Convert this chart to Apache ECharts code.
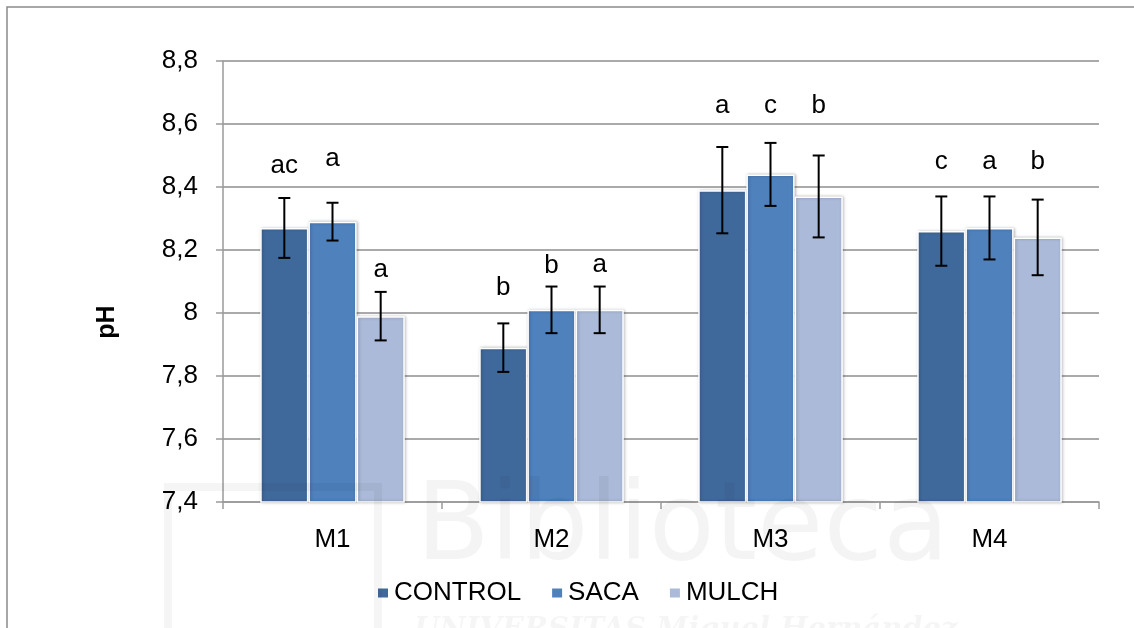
<!DOCTYPE html>
<html>
<head>
<meta charset="utf-8">
<script src="https://cdn.jsdelivr.net/npm/echarts@6/dist/echarts.min.js"></script>
<style>
  html, body { margin: 0; padding: 0; background: #fff; }
  #chart { width: 1134px; height: 628px; }
</style>
</head>
<body>
<div id="chart"></div>
<script>
// pH by plot (M1–M4) and treatment, with standard deviation and significance letters
const categories = ['M1', 'M2', 'M3', 'M4'];
const treatments = ['CONTROL', 'SACA', 'MULCH'];

const controlMean = [8.27, 7.89, 8.39, 8.26];
const sacaMean    = [8.29, 8.01, 8.44, 8.27];
const mulchMean   = [7.99, 8.01, 8.37, 8.24];

const controlSd = [0.095, 0.077, 0.137, 0.11];
const sacaSd    = [0.06, 0.074, 0.10, 0.10];
const mulchSd   = [0.077, 0.074, 0.13, 0.12];

const controlLetters = ['ac', 'b', 'a', 'c'];
const sacaLetters    = ['a', 'b', 'c', 'a'];
const mulchLetters   = ['a', 'a', 'b', 'b'];

// pH level at which each letter's baseline sits
const controlLetterAt = [8.44, 8.05, 8.63, 8.45];
const sacaLetterAt    = [8.46, 8.12, 8.63, 8.45];
const mulchLetterAt   = [8.11, 8.125, 8.63, 8.45];

const yTicks = { min: 7.4, max: 8.8, step: 0.2 };

const means = [controlMean, sacaMean, mulchMean];
const sds = [controlSd, sacaSd, mulchSd];
const letters = [controlLetters, sacaLetters, mulchLetters];
const letterAt = [controlLetterAt, sacaLetterAt, mulchLetterAt];
const colors = ['#40699B', '#4F81BD', '#AABAD8'];

const CATEGORY_GAP = 0.34;
const FONT = 'Liberation Sans, Arial, Helvetica, sans-serif';
const FS = 26;

function errorSeries(k) {
  return {
    type: 'custom',
    name: treatments[k] + ' sd',
    z: 5,
    data: categories.map((c, i) => [i, means[k][i], sds[k][i], letterAt[k][i]]),
    encode: { x: 0, y: [1] },
    renderItem: function (params, api) {
      const idx = api.value(0);
      const mean = api.value(1);
      const sd = api.value(2);
      const band = api.size([1, 0])[0];
      const groupW = band * (1 - CATEGORY_GAP);
      const barW = groupW / 3;
      const cx = api.coord([idx, mean])[0] - groupW / 2 + barW * (k + 0.5);
      const yTop = api.coord([idx, mean + sd])[1];
      const yBot = api.coord([idx, mean - sd])[1];
      const yLetter = api.coord([idx, api.value(3)])[1];
      const cap = 6;
      const stroke = { stroke: '#000', lineWidth: 2 };
      return {
        type: 'group',
        children: [
          { type: 'line', shape: { x1: cx, y1: yTop, x2: cx, y2: yBot }, style: stroke },
          { type: 'line', shape: { x1: cx - cap, y1: yTop, x2: cx + cap, y2: yTop }, style: stroke },
          { type: 'line', shape: { x1: cx - cap, y1: yBot, x2: cx + cap, y2: yBot }, style: stroke },
          {
            type: 'text',
            style: {
              x: cx, y: yLetter - 9,
              text: letters[k][params.dataIndex],
              font: FS + 'px ' + FONT,
              fill: '#000',
              align: 'center',
              verticalAlign: 'middle'
            }
          }
        ]
      };
    }
  };
}

const barSeries = treatments.map((name, k) => ({
  type: 'bar',
  name: name,
  data: means[k],
  barGap: '0%',
  barCategoryGap: (CATEGORY_GAP * 100) + '%',
  itemStyle: {
    color: colors[k],
    borderColor: '#ffffff',
    borderWidth: 1.5,
    shadowColor: 'rgba(0,0,0,0.25)',
    shadowBlur: 3,
    shadowOffsetX: 1,
    shadowOffsetY: 0
  }
}));

const chart = echarts.init(document.getElementById('chart'), null, { renderer: 'canvas' });

chart.setOption({
  animation: false,
  backgroundColor: '#ffffff',
  textStyle: { fontFamily: FONT },
  grid: { left: 223, right: 35, top: 61, bottom: 126, containLabel: false },
  legend: {
    data: treatments,
    left: 376,
    top: 580,
    padding: 0,
    itemGap: 29,
    itemWidth: 12,
    itemHeight: 11,
    icon: 'rect',
    textStyle: { fontSize: FS, color: '#000', fontFamily: FONT }
  },
  xAxis: {
    type: 'category',
    data: categories,
    axisLine: { lineStyle: { color: '#9A9A9A', width: 1.5 } },
    axisTick: { show: true, length: 7, lineStyle: { color: '#9A9A9A', width: 1.5 } },
    axisLabel: { color: '#000', fontSize: FS, margin: 25, fontFamily: FONT },
    splitLine: { show: false }
  },
  yAxis: {
    type: 'value',
    min: yTicks.min,
    max: yTicks.max,
    interval: yTicks.step,
    axisLine: { show: true, lineStyle: { color: '#9A9A9A', width: 1.5 } },
    axisTick: { show: true, length: 7, lineStyle: { color: '#9A9A9A', width: 1.5 } },
    axisLabel: {
      color: '#000', fontSize: FS, margin: 25, fontFamily: FONT,
      formatter: v => String(Number(v.toFixed(1))).replace('.', ',')
    },
    splitLine: { show: true, lineStyle: { color: '#8E8E8E', width: 1.5 } }
  },
  graphic: [
    {
      type: 'rect', z: 0, silent: true,
      shape: { x: 7, y: 7, width: 1140, height: 640 },
      style: { fill: 'none', stroke: '#8A8A8A', lineWidth: 1.5 }
    },
    {
      type: 'text', z: 10, silent: true,
      x: 107, y: 322, rotation: Math.PI / 2,
      style: {
        text: 'pH', font: 'bold 25px ' + FONT, fill: '#000',
        align: 'center', verticalAlign: 'middle'
      }
    },
    // faint library watermark
    {
      type: 'rect', z: 100, silent: true,
      shape: { x: 168, y: 487, width: 210, height: 160 },
      style: { fill: 'none', stroke: 'rgba(0,0,0,0.04)', lineWidth: 8 }
    },
    {
      type: 'text', z: 100, silent: true,
      x: 416, y: 585,
      style: {
        text: 'Biblioteca', font: '108px DejaVu Sans, sans-serif', fill: 'rgba(0,0,0,0.045)',
        align: 'left', verticalAlign: 'bottom'
      }
    },
    {
      type: 'text', z: 100, silent: true,
      x: 414, y: 645,
      style: {
        text: 'UNIVERSITAS Miguel Hernández', font: 'italic bold 29px DejaVu Serif, serif',
        fill: 'rgba(0,0,0,0.04)', align: 'left', verticalAlign: 'bottom'
      }
    }
  ],
  series: barSeries.concat([0, 1, 2].map(errorSeries))
});
</script>
</body>
</html>
